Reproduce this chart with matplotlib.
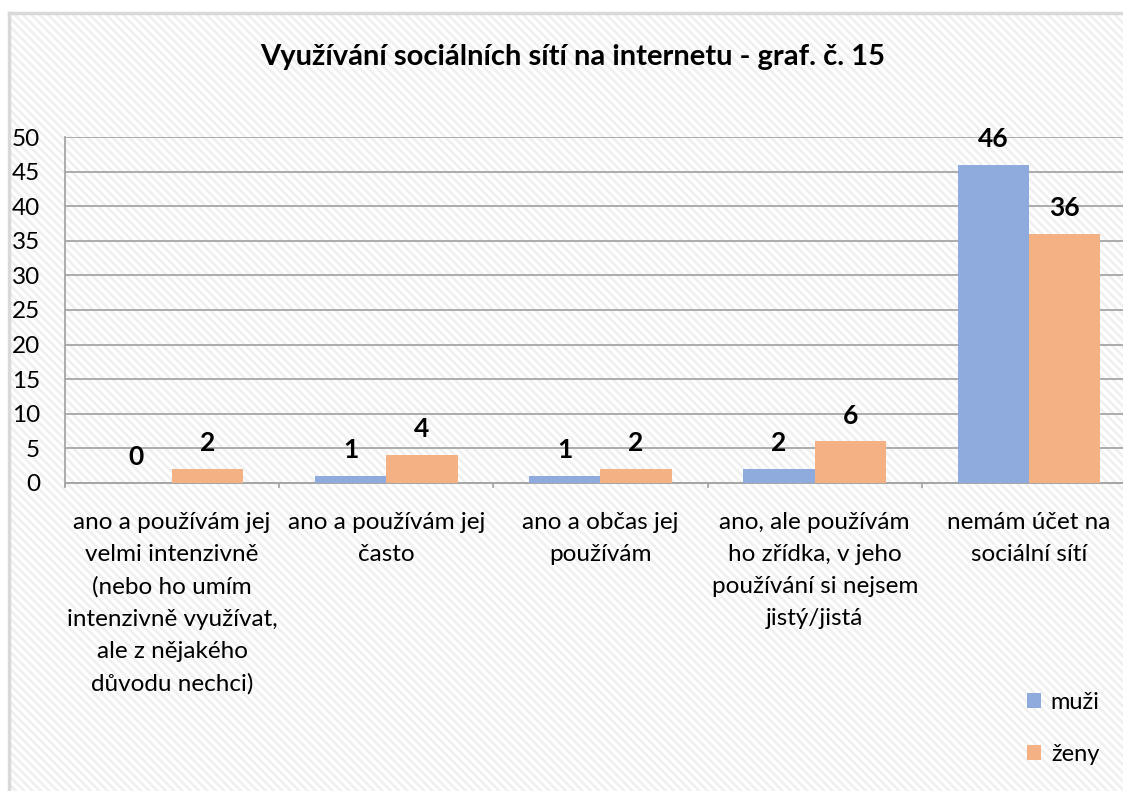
import numpy as np
import matplotlib.pyplot as plt
from matplotlib.patches import Rectangle
from matplotlib.lines import Line2D

plt.rcParams['font.family'] = ['Lato', 'DejaVu Sans']
plt.rcParams['hatch.linewidth'] = 2.0

# data
categories = ['ano a používám jej\nvelmi intenzivně\n(nebo ho umím\nintenzivně využívat,\nale z nějakého\ndůvodu nechci)',
              'ano a používám jej\nčasto',
              'ano a občas jej\npoužívám',
              'ano, ale používám\nho zřídka, v jeho\npoužívání si nejsem\njistý/jistá',
              'nemám účet na\nsociální sítí']
muzi = [0, 1, 1, 2, 46]
zeny = [2, 4, 2, 6, 36]
series_names = ['muži', 'ženy']
yticks = np.arange(0, 55, 5)

blue = '#8FAADC'
orange = '#F4B183'

W, H = 1123, 791
fig = plt.figure(figsize=(W / 100, H / 100), dpi=100)

# hatched chart background with a thin border on left/top
bg = Rectangle((9 / W, 0), 1.2, 1 - 13 / H, transform=fig.transFigure,
               facecolor='white', edgecolor='#F0F0F0', hatch='\\\\\\\\', lw=0, zorder=-2)
fig.patches.append(bg)
fig.add_artist(Line2D([9 / W, 9 / W], [0, 1 - 13 / H], color='#D9D9D9', lw=2.5,
                      transform=fig.transFigure))
fig.add_artist(Line2D([9 / W, 1], [1 - 13 / H, 1 - 13 / H], color='#D9D9D9', lw=2.5,
                      transform=fig.transFigure))

# plot area (runs past the right edge, like the cropped original)
left, right = 65, 1136
top, bottom = 137, 487
ax = fig.add_axes([left / W, 1 - bottom / H, (right - left) / W, (bottom - top) / H])
ax.patch.set_alpha(0)

x = np.arange(len(categories))
bw = 0.333
b1 = ax.bar(x - bw / 2, muzi, bw, color=blue, label=series_names[0], zorder=3)
b2 = ax.bar(x + bw / 2, zeny, bw, color=orange, label=series_names[1], zorder=3)

for bars, vals in ((b1, muzi), (b2, zeny)):
    for rect, v in zip(bars, vals):
        ax.text(rect.get_x() + rect.get_width() / 2, v + 2.0, str(v),
                ha='center', va='bottom', fontsize=19, fontweight='bold', zorder=4)

ax.set_xlim(-0.5, len(categories) - 0.5)
ax.set_yticks(yticks)
ax.yaxis.grid(True, color='#A6A6A6', lw=1.3, zorder=0)
for s in ['top', 'right', 'bottom']:
    ax.spines[s].set_visible(False)
ax.spines['left'].set_color('#A6A6A6')
ax.spines['left'].set_linewidth(1.3)
ax.spines['left'].set_bounds(-0.5, 50)
ax.tick_params(axis='y', length=0, labelsize=17.5, pad=18)
ax.tick_params(axis='x', length=0, labelsize=17.5, pad=18)
ax.set_ylim(-0.6, 50)
ax.set_xticks(x)
ax.set_xticklabels(categories, linespacing=1.65)

# category separator ticks
for xb in np.arange(-0.5, len(categories), 1.0):
    ax.plot([xb, xb], [0, -0.6], color='#A6A6A6', lw=1.3, clip_on=False, zorder=2)
ax.axhline(0, color='#A6A6A6', lw=1.3, zorder=2)

fig.text(573 / W, 1 - 57 / H, 'Využívání sociálních sítí na internetu - graf. č. 15',
         ha='center', va='center', fontsize=21, fontweight='bold')

fig.legend(handles=[b1, b2], loc='upper left', bbox_to_anchor=(1006 / W, 1 - 671 / H),
           frameon=False, fontsize=17, handlelength=0.6, handleheight=0.6,
           handletextpad=0.4, labelspacing=1.3)

fig.savefig('out.png', dpi=100)
